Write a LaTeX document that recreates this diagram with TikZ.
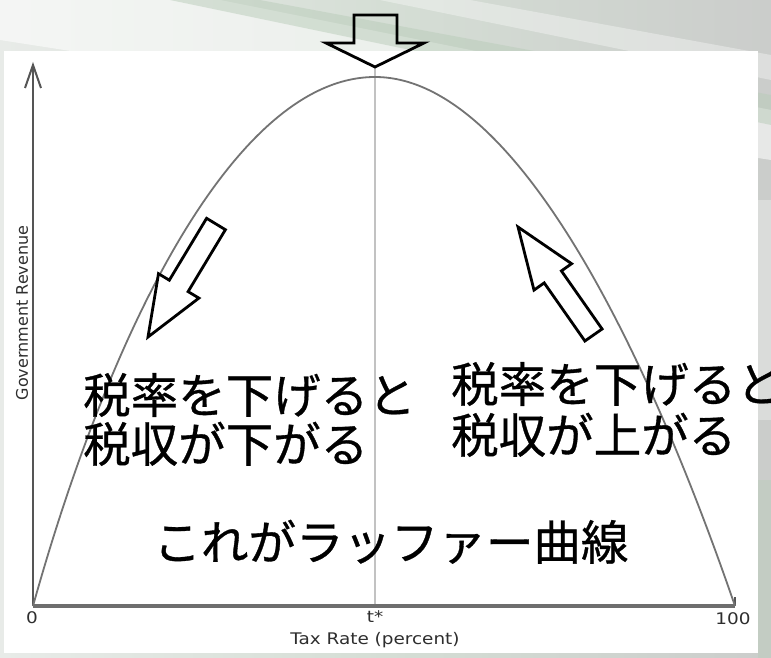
\documentclass[tikz,border=0pt]{standalone}
\usepackage{fontspec}
\usepackage{graphicx}
\setmainfont{DejaVu Sans}
\newfontfamily\jp[FakeBold=0.7]{Noto Sans CJK JP}
\definecolor{bgL}{HTML}{E8EBE8}
\definecolor{bgM}{HTML}{D5DED5}
\definecolor{bgR}{HTML}{CBCDCB}
\definecolor{streakG}{HTML}{B9CCB9}
\definecolor{axisgray}{HTML}{555555}
\definecolor{xaxisgray}{HTML}{6E6E6E}
\definecolor{curvegray}{HTML}{737373}
\definecolor{tgray}{HTML}{C2C2C2}
\definecolor{lblgray}{HTML}{2E2E2E}
\begin{document}
\begin{tikzpicture}[x=1pt,y=-1pt,
  axis/.style={draw=axisgray, line width=2pt},
  xaxis/.style={draw=xaxisgray, line width=3.5pt},
  curve/.style={draw=curvegray, line width=1.8pt},
  tline/.style={draw=tgray, line width=1.5pt},
  blockarrow/.style={draw=black, line width=2.8pt, line join=miter},
  jptext/.style={font=\jp\fontsize{47.5}{50}\selectfont, text=black, inner sep=0pt, anchor=base west},
  lbl/.style={font=\fontsize{16}{18}\selectfont, text=lblgray, inner sep=0pt}]
\useasboundingbox (0,0) rectangle (771,658);
% background
\shade[left color=bgL, right color=bgR, middle color=bgM] (0,0) rectangle (771,658);
\fill[white, opacity=0.55] (0,0) -- (220,0) -- (771,110) -- (771,160) -- (0,40) -- cycle;
\fill[streakG, opacity=0.5] (170,0) -- (260,0) -- (771,95) -- (771,125) -- cycle;
\fill[white, opacity=0.35] (380,0) -- (470,0) -- (771,55) -- (771,80) -- cycle;
\fill[white, opacity=0.3] (758,200) rectangle (771,420);
\fill[streakG, opacity=0.4] (758,480) rectangle (771,658);
% panel
\fill[white] (4,51) rectangle (758,653);
% coordinates
\coordinate (O) at (33,606);
\coordinate (ytop) at (33,65);
\coordinate (xend) at (735,606);
\coordinate (peak) at (375,77);
\coordinate (ttop) at (375,67);
\coordinate (tbot) at (375,606);
% t* line
\draw[tline] (ttop) -- (tbot);
% axes
\draw[xaxis] (O) -- (xend);
\draw[axis] (xend) -- ++(0,-9);
\draw[axis] (O) -- (ytop);
\draw[axis, line join=miter] (25,88) -- (ytop) -- (41,88);
% curve
\draw[curve] (O) .. controls (110,330) and (235,77) .. (peak)
             .. controls (510,77) and (640,330) .. (xend);
% block arrows
\draw[blockarrow] (354,15) -- (397,15) -- (397,43) -- (424,43) -- (375,67) -- (326,43) -- (354,43) -- cycle;
\draw[blockarrow, fill=white] (206.6,218.3) -- (225.4,229.7) -- (188.1,291.6) -- (198.9,298.1) -- (148,337) -- (158.5,273.7) -- (169.3,280.2) -- cycle;
\draw[blockarrow, fill=white] (602.1,329.0) -- (561.4,270.9) -- (571.6,263.7) -- (518,227) -- (534.0,290.1) -- (544.2,282.9) -- (584.9,341.0) -- cycle;
% Japanese texts
\node[jptext] (la) at (83,413) {税率を下げると};
\node[jptext] (lb) at (83,462) {税収が下がる};
\node[jptext] (ra) at (451,402) {税率を下げると};
\node[jptext] (rb) at (451,453) {税収が上がる};
\node[jptext, anchor=base] (mid) at (391,560) {これがラッファー曲線};
% axis labels
\node[lbl] (zero) at (32,618) {\scalebox{1.15}[1]{0}};
\node[lbl] (tstar) at (375,617) {\scalebox{1.15}[1]{t*}};
\node[lbl] (hundred) at (733,619) {\scalebox{1.15}[1]{100}};
\node[lbl] (xlab) at (375,640) {\scalebox{1.15}[1]{Tax Rate (percent)}};
\node[lbl, rotate=90] (ylab) at (22,313) {Government Revenue};
\end{tikzpicture}
\end{document}
